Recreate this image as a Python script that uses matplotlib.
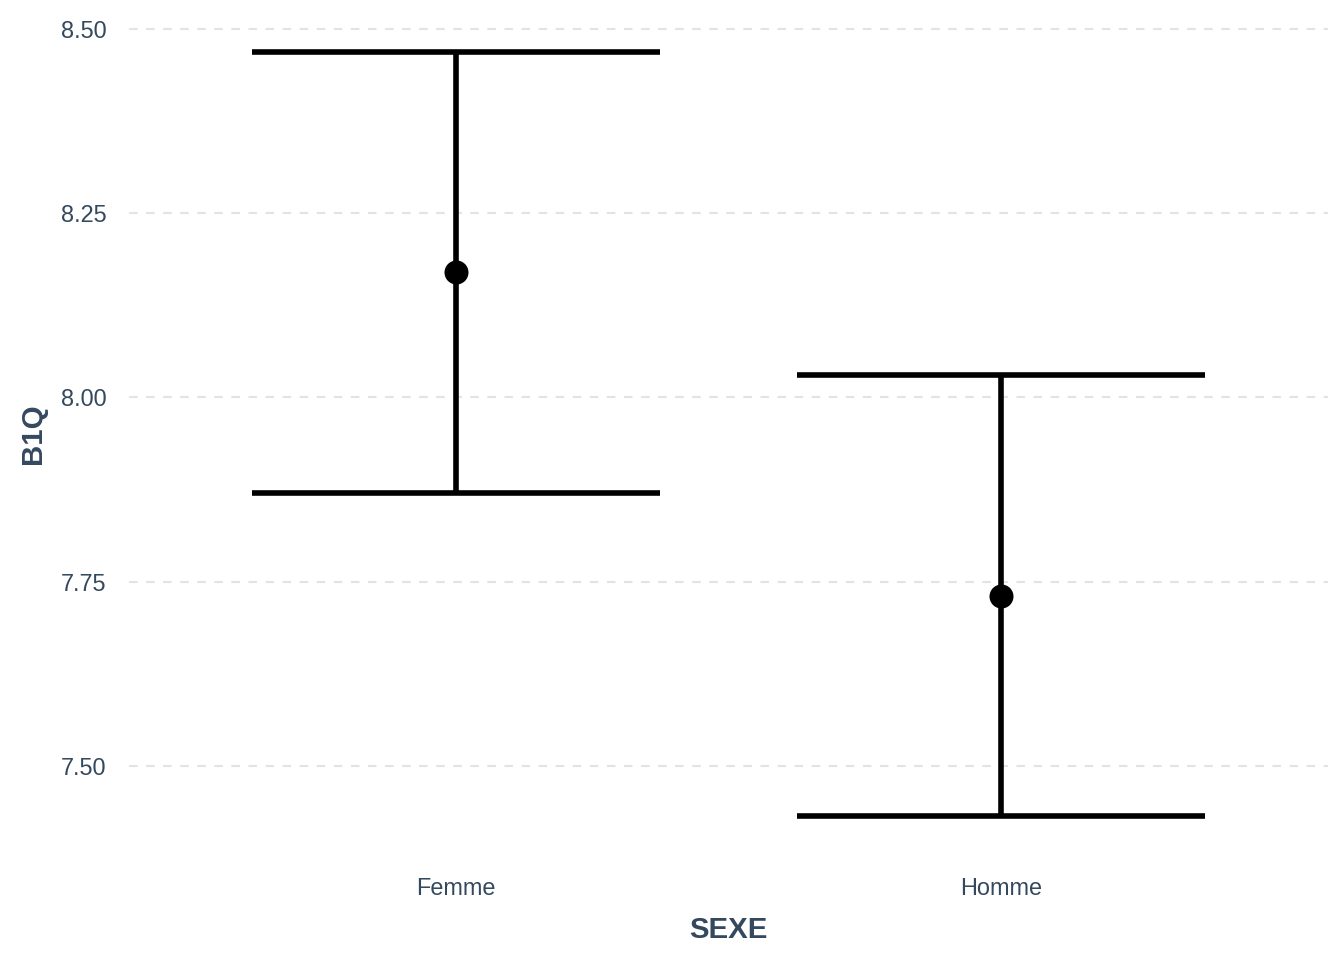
import numpy as np
import matplotlib
matplotlib.use("Agg")
import matplotlib.pyplot as plt

plt.rcParams['font.family'] = ['Liberation Sans', 'DejaVu Sans']

# data
groups = ["Femme", "Homme"]
means = [8.170, 7.731]
upper = [8.469, 8.030]
lower = [7.871, 7.432]

txt = "#34495E"
x = np.arange(1, len(groups) + 1)

fig = plt.figure(figsize=(7, 5), dpi=192)
ax = fig.add_axes([0.096, 0.110, 0.892, 0.876])

for xi, m, lo, hi in zip(x, means, lower, upper):
    ax.plot([xi, xi], [lo, hi], color="black", lw=2.1, solid_capstyle="butt", zorder=3)
    ax.plot([xi - 0.375, xi + 0.375], [hi, hi], color="black", lw=2.1, solid_capstyle="butt", zorder=3)
    ax.plot([xi - 0.375, xi + 0.375], [lo, lo], color="black", lw=2.1, solid_capstyle="butt", zorder=3)
ax.plot(x, means, "o", color="black", ms=8, zorder=4)

lo_all, hi_all = min(lower), max(upper)
pad = (hi_all - lo_all) * 0.05
ax.set_ylim(lo_all - pad, hi_all + pad)
ax.set_xlim(0.4, 2.6)

ax.set_yticks([7.5, 7.75, 8.0, 8.25, 8.5])
ax.set_yticklabels(["7.50", "7.75", "8.00", "8.25", "8.50"])
ax.set_xticks(x)
ax.set_xticklabels(groups)
ax.tick_params(axis="both", length=0, labelsize=8.8, colors=txt)
ax.tick_params(axis="y", pad=8.5)
ax.tick_params(axis="x", pad=8.5)

ax.grid(axis="y", color="#E3E3E3", lw=0.8, ls=(0, (4, 4)))
ax.set_axisbelow(True)
for s in ax.spines.values():
    s.set_visible(False)

ax.set_xlabel("SEXE", fontsize=11, fontweight="bold", color=txt, labelpad=6)
ax.set_ylabel("B1Q", fontsize=11, fontweight="bold", color=txt, labelpad=5)

fig.savefig("out.png", dpi=192, facecolor="white")
